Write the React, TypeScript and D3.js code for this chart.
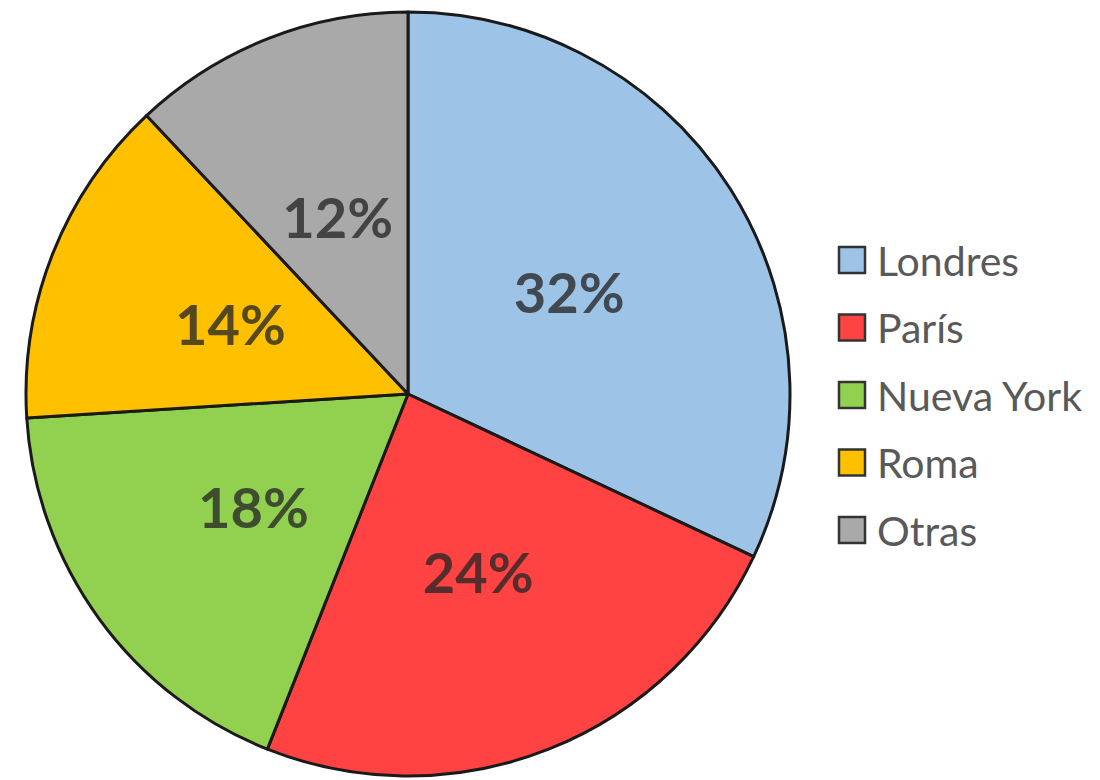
import React from "react";
import * as d3 from "d3";

// city shares
const cities: string[] = ["Londres", "París", "Nueva York", "Roma", "Otras"];
const shares: number[] = [32, 24, 18, 14, 12];
const colors: string[] = ["#9DC3E6", "#FF4343", "#92D050", "#FFC000", "#A9A9A9"];

interface Slice {
  city: string;
  value: number;
  color: string;
}

const App: React.FC = () => {
  const width = 1100;
  const height = 780;
  const cx = 408;
  const cy = 394;
  const radius = 382;

  const data: Slice[] = cities.map((c, i) => ({ city: c, value: shares[i], color: colors[i] }));

  const pie = d3.pie<Slice>().value(d => d.value).sort(null);
  const arc = d3.arc<d3.PieArcDatum<Slice>>().innerRadius(0).outerRadius(radius);
  const arcs = pie(data);

  const legendX = 838;
  const legendY = d3.scalePoint<string>().domain(cities).range([260, 530]);

  return (
    <svg width={width} height={height} style={{ position: "absolute", left: 0, top: 0, background: "#fff" }}>
      <g transform={`translate(${cx},${cy})`}>
        {arcs.map(a => (
          <path key={a.data.city} d={arc(a) || ""} fill={a.data.color} stroke="#1a1a1a" strokeWidth={3} strokeLinejoin="round" />
        ))}
        {arcs.map(a => {
          const [x, y] = arc.centroid(a);
          return (
            <text key={a.data.city + "-l"} x={x} y={y} textAnchor="middle" dominantBaseline="central"
              fontFamily="Lato, 'Open Sans', sans-serif" fontWeight="bold" fontSize={56} fill="#262626" fillOpacity={0.78}>
              {a.data.value}%
            </text>
          );
        })}
      </g>
      <g>
        {cities.map((c, i) => (
          <g key={c} transform={`translate(${legendX},${legendY(c)})`}>
            <rect x={1} y={-13} width={26} height={26} fill={colors[i]} stroke="#333" strokeWidth={2.5} />
            <text x={39} y={0} dominantBaseline="central" fontFamily="Lato, 'Open Sans', sans-serif" fontSize={41} fill="#595959">
              {c}
            </text>
          </g>
        ))}
      </g>
    </svg>
  );
};

export default App;
